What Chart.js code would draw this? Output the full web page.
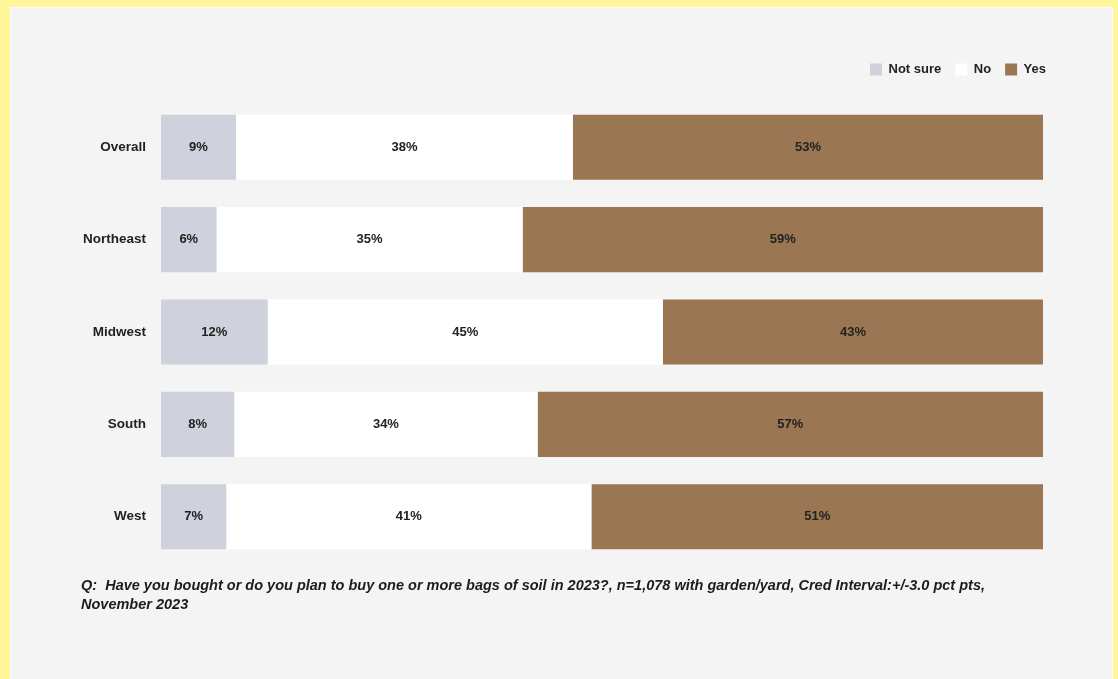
<!DOCTYPE html>
<html>
<head>
<meta charset="utf-8">
<script src="https://cdn.jsdelivr.net/npm/chart.js@4.4.1/dist/chart.umd.min.js"></script>
<style>
	html, body { margin: 0; padding: 0; background: #fff59a; width: 1118px; height: 679px; overflow: hidden; }
	#panel { position: absolute; left: 10px; top: 7px; width: 1101px; height: 690px; background: #f4f4f4; border: 1px solid #fafafa; }
	#wrap { position: absolute; left: 0; top: 0; width: 1101px; height: 570px; }
	#note { position: absolute; left: 70px; top: 568px; width: 930px; font: italic bold 14.5px "Liberation Sans", Arial, sans-serif; color: #1c1c1c; line-height: 19px; }
</style>
</head>
<body>
<div id="panel">
	<div id="wrap"><canvas id="chart"></canvas></div>
	<div id="note">Q:&nbsp; Have you bought or do you plan to buy one or more bags of soil in 2023?, n=1,078 with garden/yard, Cred Interval:+/-3.0 pct pts, November 2023</div>
</div>
<script>
// regiões e respostas
const regions = ['Overall', 'Northeast', 'Midwest', 'South', 'West'];
const notSure = [8.5, 6.3, 12.1, 8.3, 7.4];
const no = [38.2, 34.7, 44.8, 34.4, 41.4];
const yes = [53.3, 59.0, 43.1, 57.3, 51.2];

const FONT = '"Liberation Sans", Arial, sans-serif';

// rótulos no centro de cada barra
const barLabels = {
	id: 'barLabels',
	afterDatasetsDraw(chart){
		const ctx = chart.ctx;
		ctx.save();
		ctx.font = 'bold 13px ' + FONT;
		ctx.fillStyle = '#222';
		ctx.textAlign = 'center';
		ctx.textBaseline = 'middle';
		chart.data.datasets.forEach((ds, i)=>{
			chart.getDatasetMeta(i).data.forEach((bar, j)=>{
				const cx = (bar.x + bar.base) / 2;
				ctx.fillText(Math.round(ds.data[j]) + '%', cx, bar.y);
			});
		});
		ctx.restore();
	}
};

// espaço extra abaixo da legenda e deslocamento para a direita
const legendSpacing = {
	id: 'legendSpacing',
	beforeInit(chart){
		const fit = chart.legend.fit;
		chart.legend.fit = function(){
			fit.bind(chart.legend)();
			this.height += 15;
		};
	},
	afterLayout(chart){
		chart.legend.left += 17;
		chart.legend.right += 17;
	}
};

new Chart(document.getElementById('chart'), {
	type: 'bar',
	data: {
		labels: regions,
		datasets: [
			{ label: 'Not sure', data: notSure, backgroundColor: '#cfd1dc' },
			{ label: 'No', data: no, backgroundColor: '#ffffff' },
			{ label: 'Yes', data: yes, backgroundColor: '#9a7652' }
		]
	},
	options: {
		indexAxis: 'y',
		responsive: true,
		maintainAspectRatio: false,
		animation: false,
		datasets: { bar: { barPercentage: 1, categoryPercentage: 0.705, borderWidth: 0 } },
		layout: { padding: { top: 41, right: 69, bottom: 4, left: 0 } },
		plugins: {
			legend: {
				position: 'top',
				align: 'end',
				labels: { boxWidth: 12, boxHeight: 12, padding: 14, color: '#222', font: { family: FONT, size: 13, weight: 'bold' } }
			},
			tooltip: { enabled: false }
		},
		scales: {
			x: { stacked: true, min: 0, max: 100, display: false },
			y: {
				stacked: true,
				grid: { display: false },
				border: { display: false },
				ticks: { color: '#222', padding: 7, font: { family: FONT, size: 13.5, weight: 'bold' } },
				afterFit(scale){ scale.width = 150; }
			}
		}
	},
	plugins: [barLabels, legendSpacing]
});
</script>
</body>
</html>
